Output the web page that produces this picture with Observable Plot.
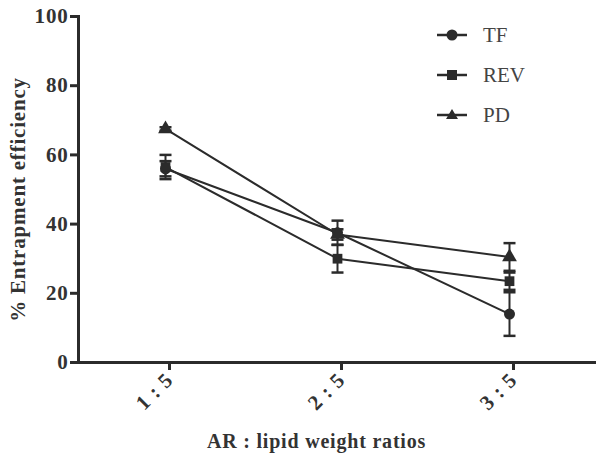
<!DOCTYPE html>
<html>
<head>
<meta charset="utf-8">
<script src="https://cdn.jsdelivr.net/npm/d3@7"></script>
<script src="https://cdn.jsdelivr.net/npm/@observablehq/plot@0.6"></script>
<style>
  html, body { margin: 0; padding: 0; background: #fff; }
  #wrap { position: relative; width: 596px; height: 455px; }
  #legend { position: absolute; left: 436px; top: 20px; font-family: "Liberation Serif", serif; font-size: 21px; color: #444; }
  .row { display: flex; align-items: center; height: 30px; margin-bottom: 10px; }
  .row svg { width: 32px; height: 20px; margin-right: 15px; }
</style>
</head>
<body>
<div id="wrap"><div id="legend"></div></div>
<script>
const ratios = ["1 : 5", "2 : 5", "3 : 5"];
const seriesNames = ["TF", "REV", "PD"];
const tf = [56, 37.5, 14];
const tfErr = [2.2, 3.5, 6.3];
const rev = [56.5, 30, 23.5];
const revErr = [3.5, 4, 2.5];
const pd = [67.5, 37, 30.5];
const pdErr = [0.5, 1.5, 4];
const yTicks = [0, 20, 40, 60, 80, 100];

const symbols = {TF: "circle", REV: "square", PD: "triangle"};
const vals = {TF: tf, REV: rev, PD: pd};
const errs = {TF: tfErr, REV: revErr, PD: pdErr};
const data = seriesNames.flatMap(s => ratios.map((r, i) => ({series: s, ratio: r, value: vals[s][i], err: errs[s][i]})));

const cap = {draw(ctx, size) { const w = 6; ctx.moveTo(-w, 0); ctx.lineTo(w, 0); }};
const ink = "#2b2b2b";
const font = "Liberation Serif";

const chart = Plot.plot({
  width: 596, height: 455,
  marginLeft: 78, marginRight: 0, marginTop: 16, marginBottom: 93,
  style: {fontFamily: font, color: "#333", background: "white"},
  x: {type: "point", domain: ratios, padding: 0.5},
  y: {domain: [0, 100]},
  marks: [
    Plot.axisY({ticks: yTicks, tickSize: 8, tickPadding: 2, strokeWidth: 3, stroke: ink, fontSize: 21, fontWeight: "bold", label: null}),
    Plot.text(["% Entrapment efficiency"], {frameAnchor: "left", dx: -60, rotate: -90, lineAnchor: "middle", fontSize: 21, fontWeight: "bold", fill: "#333", textAnchor: "middle", dy: 10}),
    Plot.axisX({tickSize: 8, strokeWidth: 3, stroke: ink, fontSize: 21, fontWeight: "bold", tickRotate: -45, tickPadding: 6, dx: 4, label: null}),
    Plot.frame({anchor: "left", stroke: ink, strokeWidth: 3}),
    Plot.frame({anchor: "bottom", stroke: ink, strokeWidth: 3}),
    Plot.ruleX(data, {x: "ratio", y1: d => d.value - d.err, y2: d => d.value + d.err, stroke: ink, strokeWidth: 2}),
    Plot.dot(data, {x: "ratio", y: d => d.value + d.err, symbol: () => cap, r: 6, stroke: ink, strokeWidth: 2.5}),
    Plot.dot(data, {x: "ratio", y: d => d.value - d.err, symbol: () => cap, r: 6, stroke: ink, strokeWidth: 2.5}),
    Plot.line(data, {x: "ratio", y: "value", z: "series", stroke: ink, strokeWidth: 2}),
    Plot.dot(data, {x: "ratio", y: "value", symbol: d => symbols[d.series], fill: ink, r: 5.5}),
    Plot.text(["AR : lipid weight ratios"], {frameAnchor: "bottom", dx: -21, dy: 79, lineAnchor: "middle", fontSize: 20, fontWeight: "bold", fill: "#333"})
  ]
});
const svg = chart.tagName.toLowerCase() === "svg" ? chart : chart.querySelector("svg");
svg.style.letterSpacing = "0.8px";
document.getElementById("wrap").prepend(chart);

// Legend
const legend = document.getElementById("legend");
const symPaths = {
  TF: '<circle cx="16" cy="10" r="5.5" fill="#2b2b2b"/>',
  REV: '<rect x="11" y="5" width="10" height="10" fill="#2b2b2b"/>',
  PD: '<path d="M16,4 L22,14 L10,14 Z" fill="#2b2b2b"/>'
};
for (const s of seriesNames) {
  const row = document.createElement("div");
  row.className = "row";
  row.innerHTML = `<svg viewBox="0 0 32 20"><line x1="1" y1="10" x2="31" y2="10" stroke="#2b2b2b" stroke-width="2.5"/>${symPaths[s]}</svg><span>${s}</span>`;
  legend.appendChild(row);
}
</script>
</body>
</html>
